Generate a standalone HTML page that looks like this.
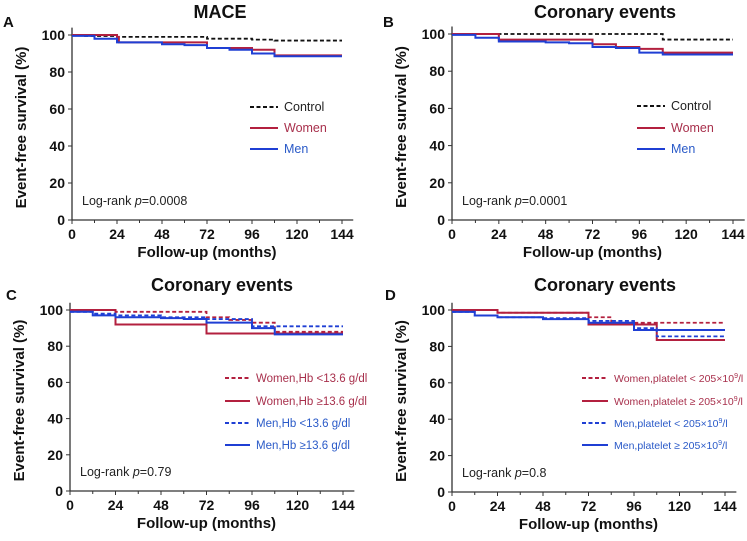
<!DOCTYPE html>
<html><head><meta charset="utf-8"><style>
body{margin:0;background:#fff}
svg{display:block;font-family:"Liberation Sans",Arial,sans-serif}
.tk{font-size:14px;font-weight:bold;fill:#111}
.ax{font-size:15px;font-weight:bold;fill:#111}
.ti{font-size:18px;font-weight:bold;fill:#111}
.lt{font-size:11px}
</style></head><body>
<svg id="s" width="747" height="541" viewBox="0 0 747 541" xmlns="http://www.w3.org/2000/svg"></svg>
<script>
const R="#b3203f",B="#1f3fd4",K="#111";
const s=document.getElementById('s');let h='';
function panel(p){
 const {x0,x1,y100,y0}=p;
 const X=t=>x0+(x1-x0)*t/144, Y=v=>y0+(y100-y0)*v/100;
 h+=`<text class="ti" x="${p.tx}" y="${p.ty}" text-anchor="middle">${p.title}</text>`;
 h+=`<text class="ti" x="${p.lx}" y="${p.ly}" style="font-size:15px">${p.letter}</text>`;
 h+=`<line x1="${x0}" y1="${Y(104)}" x2="${x0}" y2="${y0}" stroke="#333" stroke-width="1.3"/>`;
 h+=`<line x1="${x0}" y1="${y0}" x2="${X(150)}" y2="${y0}" stroke="#333" stroke-width="1.3"/>`;
 for(let v=0;v<=100;v+=20){h+=`<line x1="${x0-4}" x2="${x0}" y1="${Y(v)}" y2="${Y(v)}" stroke="#333"/><text class="tk" x="${x0-7}" y="${Y(v)+5}" text-anchor="end">${v}</text>`;}
 for(let t=0;t<=144;t+=24){h+=`<line x1="${X(t)}" x2="${X(t)}" y1="${y0}" y2="${y0+4}" stroke="#333"/><text class="tk" x="${X(t)}" y="${y0+19}" text-anchor="middle">${t}</text>`;}
 for(let t=12;t<144;t+=24){h+=`<line x1="${X(t)}" x2="${X(t)}" y1="${y0}" y2="${y0+3}" stroke="#333"/>`;}
 h+=`<text class="ax" x="${(x0+X(144))/2}" y="${y0+37}" text-anchor="middle">Follow-up (months)</text>`;
 h+=`<text class="ax" transform="translate(${x0-46},${(y0+y100)/2}) rotate(-90)" text-anchor="middle">Event-free survival (%)</text>`;
 h+=`<text x="${x0+10}" y="${y0-15}" style="font-size:12.5px" fill="#222">Log-rank <tspan font-style="italic">p</tspan>=${p.p}</text>`;
 p.series.forEach(se=>{
  let d='M'+X(se.d[0][0])+','+Y(se.d[0][1]);
  for(let i=1;i<se.d.length;i++){d+=' H'+X(se.d[i][0])+' V'+Y(se.d[i][1]);}
  h+=`<path d="${d}" fill="none" stroke="${se.c}" stroke-width="${se.dash?1.8:2}" ${se.dash?'stroke-dasharray="4,2.5"':''}/>`;
 });
 p.leg.forEach((l,i)=>{
  const y=p.legY[i];
  h+=`<line x1="${p.legX}" x2="${p.legX+p.legW}" y1="${y}" y2="${y}" stroke="${l.c}" stroke-width="2" ${l.dash?'stroke-dasharray="4,2.5"':''}/>`;
  h+=`<text class="lt" x="${p.legX+p.legW+6}" y="${y+4}" fill="${l.tc}" style="font-size:${p.lfs}px">${l.t}</text>`;
 });
}
const legABC=[{t:"Control",c:K,tc:"#222",dash:1},{t:"Women",c:R,tc:"#a8304c"},{t:"Men",c:B,tc:"#2a5ac8"}];
panel({x0:72,x1:342,y100:35,y0:220,title:"MACE",tx:220,ty:18,letter:"A",lx:3,ly:27,p:"0.0008",
 legX:250,legW:28,legY:[107,128,149],lfs:12.5,leg:legABC,
 series:[
 {c:K,dash:1,d:[[0,100],[6,99.5],[24,99],[72,98],[96,97.5],[108,97],[144,97]]},
 {c:R,d:[[0,100],[24,99],[25,96],[72,96],[72,93],[84,93],[96,92],[108,89],[144,89]]},
 {c:B,d:[[0,99.5],[12,98],[24,96],[48,95],[60,94.5],[72,93],[84,92],[96,90],[108,88.5],[144,88.5]]}]});
panel({x0:452,x1:733,y100:34,y0:220,title:"Coronary events",tx:605,ty:18,letter:"B",lx:383,ly:27,p:"0.0001",
 legX:637,legW:28,legY:[106,128,149],lfs:12.5,leg:legABC,
 series:[
 {c:K,dash:1,d:[[0,100],[108,99],[108,97],[144,97]]},
 {c:R,d:[[0,100],[24,100],[24,97],[72,97],[72,94.5],[84,93],[96,92],[108,90],[144,90]]},
 {c:B,d:[[0,99.5],[12,98],[24,96],[48,95.5],[60,95],[72,93],[84,92.5],[96,90],[108,89],[144,89]]}]});
const legC=[{t:"Women,Hb &lt;13.6 g/dl",c:R,tc:"#a8304c",dash:1},{t:"Women,Hb ≥13.6 g/dl",c:R,tc:"#a8304c"},{t:"Men,Hb &lt;13.6 g/dl",c:B,tc:"#2a5ac8",dash:1},{t:"Men,Hb ≥13.6 g/dl",c:B,tc:"#2a5ac8"}];
panel({x0:70,x1:343,y100:310,y0:491,title:"Coronary events",tx:222,ty:291,letter:"C",lx:6,ly:300,p:"0.79",
 legX:225,legW:25,legY:[378,401,423,445],lfs:11.5,leg:legC,
 series:[
 {c:R,dash:1,d:[[0,100],[24,99],[72,96],[84,94.5],[96,93],[108,88],[144,88]]},
 {c:R,d:[[0,100],[24,92],[72,87],[144,87]]},
 {c:B,dash:1,d:[[0,99],[12,98],[24,97],[48,96],[72,95],[96,91],[144,91]]},
 {c:B,d:[[0,99],[12,97],[24,96],[48,95.5],[60,95],[72,93],[96,90],[108,86.5],[144,86.5]]}]});
const sup="10<tspan dy='-4' font-size='7'>9</tspan><tspan dy='4'>/l</tspan>";
const legD=[{t:"Women,platelet &lt; 205×"+sup,c:R,tc:"#a8304c",dash:1},{t:"Women,platelet ≥ 205×"+sup,c:R,tc:"#a8304c"},{t:"Men,platelet &lt; 205×"+sup,c:B,tc:"#2a5ac8",dash:1},{t:"Men,platelet ≥ 205×"+sup,c:B,tc:"#2a5ac8"}];
panel({x0:452,x1:725,y100:310,y0:492,title:"Coronary events",tx:605,ty:291,letter:"D",lx:385,ly:300,p:"0.8",
 legX:582,legW:26,legY:[378,401,423,445],lfs:10.5,leg:legD,
 series:[
 {c:R,dash:1,d:[[0,100],[24,98.5],[72,96],[84,93],[144,93]]},
 {c:R,d:[[0,100],[24,98.5],[72,92],[108,83.5],[144,83.5]]},
 {c:B,dash:1,d:[[0,99],[12,97],[24,96],[48,95.5],[72,94],[96,90],[108,85.5],[144,85.5]]},
 {c:B,d:[[0,99],[12,97],[24,96],[48,95],[72,93],[96,89],[144,89]]}]});
s.innerHTML=h;
</script>
</body></html>
